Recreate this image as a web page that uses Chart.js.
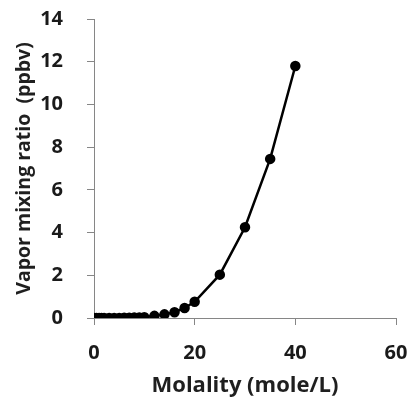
<!DOCTYPE html>
<html><head><meta charset="utf-8">
<script src="https://cdn.jsdelivr.net/npm/chart.js@4/dist/chart.umd.min.js"></script>
<style>html,body{margin:0;padding:0;background:#fff}#wrap{width:411px;height:397px}</style>
</head><body><div id="wrap"><canvas id="c"></canvas></div>
<script>
const molality = [0, 0.5, 1, 1.5, 2, 3, 4, 5, 6, 7, 8, 9, 10, 12, 14, 16, 18, 20, 25, 30, 35, 40];
const mixingRatio = [0, 0, 0, 0, 0, 0, 0, 0.005, 0.008, 0.012, 0.018, 0.025, 0.04, 0.1, 0.17, 0.27, 0.47, 0.76, 2.03, 4.25, 7.45, 11.8];
const xTicks = [0, 20, 40, 60];
const yTicks = [0, 2, 4, 6, 8, 10, 12, 14];
const xTitle = 'Molality (mole/L)';
const yTitle = 'Vapor mixing ratio  (ppbv)';

const pts = molality.map((x, i) => ({x, y: mixingRatio[i]}));
const fam = '"Open Sans", sans-serif';
const font = {family: fam, weight: 'bold', size: 20};
new Chart(document.getElementById('c'), {
  type: 'scatter',
  data: {datasets: [{data: pts, showLine: true, borderColor: '#000', backgroundColor: '#000',
    borderWidth: 2.5, pointRadius: 4, pointHoverRadius: 4, tension: 0}]},
  options: {
    responsive: true, maintainAspectRatio: false, animation: false,
    layout: {padding: 0},
    plugins: {legend: {display: false}, tooltip: {enabled: false}},
    scales: {
      x: {type: 'linear', min: 0, max: 60,
        afterBuildTicks: s => { s.ticks = xTicks.map(v => ({value: v})); },
        afterFit: s => { s.height = 79; s.paddingLeft = 0; s.paddingRight = 15; },
        border: {color: '#868686', width: 1},
        grid: {drawOnChartArea: false, color: '#868686', tickLength: 7},
        ticks: {color: '#1a1a1a', font, padding: 16},
        title: {display: true, text: xTitle, color: '#1f1f1f', font: {family: fam, weight: 'bold', size: 22}, padding: {top: 0, bottom: -2}}
      },
      y: {type: 'linear', min: 0, max: 14,
        afterBuildTicks: s => { s.ticks = yTicks.map(v => ({value: v})); },
        afterFit: s => { s.width = 94; s.paddingTop = 19; s.paddingBottom = 0; },
        border: {color: '#868686', width: 1},
        grid: {drawOnChartArea: false, color: '#868686', tickLength: 7},
        ticks: {color: '#1a1a1a', font, padding: 24},
        title: {display: true, text: yTitle, color: '#1f1f1f', font: {family: fam, weight: 'bold', size: 19.5}, padding: {top: 13, bottom: 0}}
      }
    }
  }
});
</script></body></html>
